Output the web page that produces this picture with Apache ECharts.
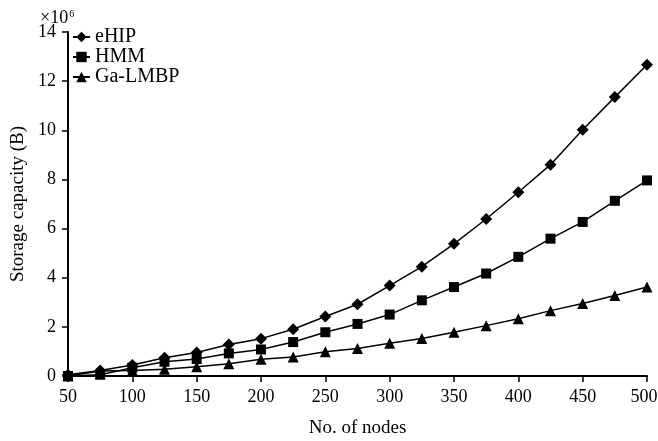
<!DOCTYPE html>
<html><head><meta charset="utf-8">
<script src="https://cdn.jsdelivr.net/npm/echarts@6/dist/echarts.min.js"></script>
<style>html,body{margin:0;padding:0;background:#fff}#c{width:658px;height:441px}</style>
</head><body><div id="c"></div>
<script>
const nodes = [50,75,100,125,150,175,200,225,250,275,300,325,350,375,400,425,450,475,500];
const eHIP = [0.05,0.22,0.45,0.74,0.96,1.28,1.52,1.9,2.42,2.92,3.68,4.45,5.38,6.39,7.48,8.6,10.02,11.35,12.67];
const HMM = [0.0,0.05,0.34,0.58,0.69,0.92,1.08,1.38,1.78,2.12,2.5,3.08,3.62,4.17,4.85,5.59,6.27,7.13,7.96];
const GaLMBP = [0.0,0.2,0.22,0.27,0.38,0.5,0.68,0.77,0.99,1.12,1.33,1.53,1.78,2.05,2.33,2.66,2.95,3.28,3.62];
const yTicks = [0,2,4,6,8,10,12,14];
const xTicks = [50,100,150,200,250,300,350,400,450,500];

const font = 'Liberation Serif';
function pairs(v){ return nodes.map((x,i)=>[x,v[i]]); }
function ser(name, data, sym, size){
  return {name, type:'line', data:pairs(data), symbol:sym, symbolSize:size,
    lineStyle:{color:'#000', width:1.5}, itemStyle:{color:'#000'}, animation:false};
}
const chart = echarts.init(document.getElementById('c'));
chart.setOption({
  backgroundColor:'#fff',
  animation:false,
  title:{text:'×10{s|6}', left:35, top:4,
    textStyle:{fontFamily:font, fontSize:18, color:'#000', fontWeight:'normal',
      rich:{s:{fontFamily:font, fontSize:10, color:'#000', verticalAlign:'top', padding:[0,0,8,1]}}}},
  grid:{left:68, right:11, top:32, bottom:65, outerBoundsMode:'none', containLabel:false},
  legend:{left:67, top:22, orient:'vertical', itemGap:0, itemWidth:17, itemHeight:13,
    textStyle:{fontFamily:font, fontSize:20, color:'#000'},
    data:['eHIP','HMM','Ga-LMBP']},
  xAxis:{type:'value', min:50, max:500, interval:50,
    name:'No. of nodes', nameLocation:'middle', nameGap:43,
    nameTextStyle:{fontFamily:font, fontSize:19, color:'#000'},
    axisLine:{lineStyle:{color:'#000', width:2}},
    axisTick:{show:true, length:6, lineStyle:{color:'#000', width:1.5}},
    axisLabel:{fontFamily:font, fontSize:18, color:'#000', margin:12,
      formatter:v=>xTicks.includes(v)?(v===500?'{r|500}':String(v)):'',
      rich:{r:{fontFamily:font, fontSize:18, color:'#000', padding:[0,6,0,0]}}},
    splitLine:{show:false}},
  yAxis:{type:'value', min:0, max:14, interval:2,
    name:'Storage capacity (B)', nameLocation:'middle', nameGap:38,
    nameTextStyle:{fontFamily:font, fontSize:19, color:'#000'},
    axisLine:{show:true, lineStyle:{color:'#000', width:2}},
    axisTick:{show:true, length:6, lineStyle:{color:'#000', width:1.5}},
    axisLabel:{fontFamily:font, fontSize:18, color:'#000', margin:12,
      formatter:v=>yTicks.includes(v)?String(v):''},
    splitLine:{show:false}},
  series:[
    ser('eHIP', eHIP, 'diamond', 12),
    ser('HMM', HMM, 'rect', 10),
    ser('Ga-LMBP', GaLMBP, 'triangle', 11)
  ]
});
</script></body></html>
